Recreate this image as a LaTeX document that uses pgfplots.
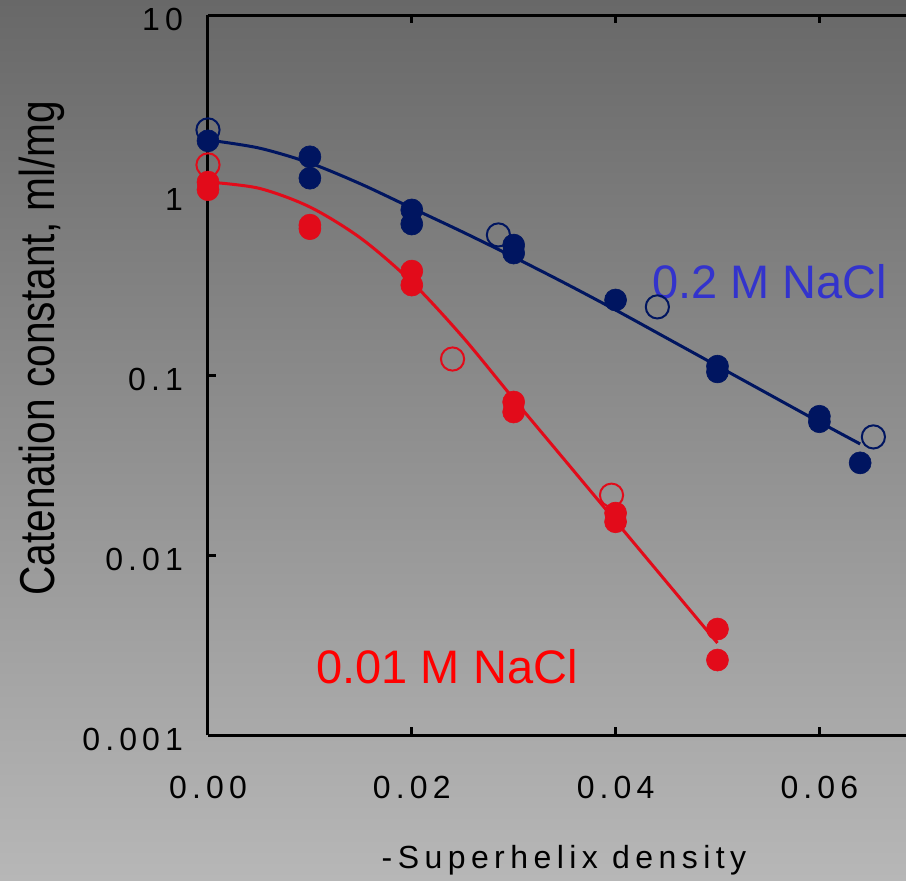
\documentclass[border=0pt]{standalone}
\usepackage{pgfplots}
\pgfplotsset{compat=1.18}
\usepackage{fontspec}
\setmainfont{Liberation Sans}
\newfontfamily\spacedfont[LetterSpace=16]{Liberation Sans}
\newfontfamily\spacedfontx[LetterSpace=17]{Liberation Sans}
\newfontfamily\condfont[FakeStretch=0.83]{Liberation Sans}
\definecolor{navy}{RGB}{0,21,96}
\definecolor{myred}{RGB}{226,11,26}
\definecolor{lblblue}{RGB}{51,51,204}
\definecolor{bgtop}{RGB}{104,104,104}
\definecolor{bgbot}{RGB}{183,183,183}
\begin{document}
\begin{tikzpicture}
\shade[top color=bgtop, bottom color=bgbot] (-104pt,-72.5pt) rectangle (349pt,367.5pt);
\begin{axis}[
  at={(0,0)}, anchor=south west,
  scale only axis, width=349pt, height=360pt,
  xmin=0, xmax=0.0685,
  ymode=log, ymin=0.001, ymax=10,
  axis x line=box, axis y line=left,
  axis line style={-, line width=1.5pt, black},
  every tick/.style={black, line width=1.5pt},
  major tick length=4pt,
  tick align=inside,
  yminorticks=false,
  scaled x ticks=false,
  xtick={0,0.02,0.04,0.06},
  xticklabels={0.00,0.02,0.04,0.06},
  ytick={0.001,0.01,0.1,1,10},
  yticklabels={0.001,0.01,0.1,1,10},
  ticklabel style={font=\spacedfont\fontsize{16}{19}\selectfont},
  yticklabel style={xshift=-9pt, yshift=-2pt},
  xticklabel style={yshift=-17pt},
  clip=false,
]
% fitted curves
\addplot[navy, line width=1.5pt, smooth, tension=0.5] coordinates {
(0,2.021) (0.005,1.824) (0.01,1.506) (0.015,1.151) (0.02,0.8467) (0.025,0.6228)
(0.03,0.4521) (0.035,0.3244) (0.04,0.2297) (0.045,0.1606) (0.05,0.1122)
(0.055,0.0784) (0.06,0.0548) (0.064,0.0414)};
\addplot[myred, line width=1.5pt, smooth, tension=0.5] coordinates {
(0,1.181) (0.005,1.090) (0.01,0.8577) (0.015,0.5750) (0.02,0.3286) (0.025,0.1626)
(0.03,0.0736) (0.035,0.03373) (0.04,0.01545) (0.045,0.00708) (0.05,0.003245)};
% open circles
\addplot[only marks, mark=o, mark size=5.8pt, mark options={draw=navy, line width=1pt}] coordinates {
(0,2.3) (0.0285,0.60) (0.0441,0.239) (0.0653,0.0453)};
\addplot[only marks, mark=o, mark size=5.8pt, mark options={draw=myred, line width=1pt}] coordinates {
(0,1.47) (0.024,0.1227) (0.0396,0.0215)};
% filled circles
\addplot[only marks, mark=*, mark size=5.5pt, mark options={draw=navy, fill=navy, line width=0.3pt}] coordinates {
(0,2.0) (0.01,1.63) (0.01,1.24) (0.02,0.826) (0.02,0.69) (0.03,0.527) (0.03,0.476)
(0.04,0.261) (0.05,0.112) (0.05,0.104) (0.06,0.059) (0.06,0.055) (0.064,0.0325)};
\addplot[only marks, mark=*, mark size=5.5pt, mark options={draw=myred, fill=myred, line width=0.3pt}] coordinates {
(0,1.18) (0,1.07) (0.01,0.68) (0.01,0.65) (0.02,0.378) (0.02,0.316) (0.03,0.0708)
(0.03,0.0623) (0.04,0.0171) (0.04,0.0153) (0.05,0.00388) (0.05,0.00261)};
\node[rotate=90, anchor=base, font=\condfont\fontsize{24.5}{29}\selectfont] at (axis description cs:-0.2192,0.5375) {Catenation constant, ml/mg};
\node[font=\spacedfontx\fontsize{16}{19}\selectfont] at (axis description cs:0.51,-0.1736) {-Superhelix density};
\node[anchor=base, text=lblblue, font=\fontsize{23.5}{28}\selectfont] at (axis description cs:0.805,0.6056) {0.2 M NaCl};
\node[anchor=base, text=red, font=\fontsize{23.5}{28}\selectfont] at (axis description cs:0.3424,0.0722) {0.01 M NaCl};
\end{axis}
\pgfresetboundingbox
\path[use as bounding box] (-104pt,-72.5pt) rectangle (349pt,367.5pt);
\end{tikzpicture}
\end{document}
